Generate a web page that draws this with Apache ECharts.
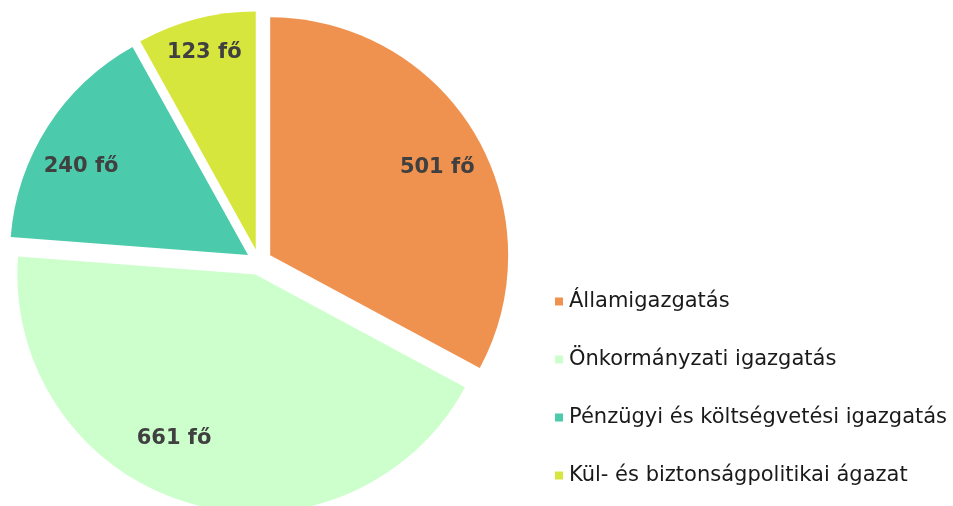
<!DOCTYPE html>
<html>
<head>
<meta charset="utf-8">
<script src="https://cdn.jsdelivr.net/npm/echarts@6/dist/echarts.min.js"></script>
<style>
  html, body { margin: 0; padding: 0; background: #fff; }
  #main { width: 953px; height: 506px; }
</style>
</head>
<body>
<div id="main"></div>
<script>
// adatok
var categories = ['Államigazgatás', 'Önkormányzati igazgatás', 'Pénzügyi és költségvetési igazgatás', 'Kül- és biztonságpolitikai ágazat'];
var values = [501, 661, 240, 123];
var colors = ['#F0924F', '#CCFFCC', '#4BCBAB', '#D7E63D'];
// feliratok eltolása (stílus)
var labelOffsets = [[1, 11], [-27, -22], [-4, 16], [-3, -10]];

var chart = echarts.init(document.getElementById('main'));

var pieData = categories.map(function (name, i) {
  return { name: name, value: values[i], selected: true };
});

chart.setOption({
  animation: false,
  color: colors,
  legend: {
    orient: 'vertical',
    left: 550,
    top: 286,
    icon: 'rect',
    itemWidth: 8,
    itemHeight: 8,
    itemGap: 37,
    selectedMode: false,
    textStyle: { fontFamily: 'DejaVu Sans', fontSize: 21, color: '#1a1a1a', padding: [0, 0, 0, 1] },
    data: categories
  },
  series: [
    {
      type: 'pie',
      center: [259, 262],
      radius: [0, 238],
      startAngle: 90,
      clockwise: true,
      selectedMode: 'multiple',
      selectedOffset: 13,
      label: { show: false },
      labelLine: { show: false },
      emphasis: { disabled: true },
      select: { itemStyle: { borderWidth: 0 } },
      data: pieData
    },
    {
      // csak a feliratokhoz
      type: 'pie',
      silent: true,
      center: [259, 262],
      radius: [143, 238],
      startAngle: 90,
      clockwise: true,
      selectedMode: 'multiple',
      selectedOffset: 13,
      itemStyle: { color: 'rgba(0,0,0,0)' },
      select: { itemStyle: { color: 'rgba(0,0,0,0)', borderWidth: 0 } },
      emphasis: { disabled: true },
      label: {
        show: true,
        position: 'inside',
        formatter: '{c} fő',
        fontFamily: 'DejaVu Sans',
        fontWeight: 'bold',
        fontSize: 21,
        color: '#404040'
      },
      labelLayout: function (params) {
        var o = labelOffsets[params.dataIndex];
        return { dx: o[0], dy: o[1] };
      },
      labelLine: { show: false },
      data: pieData
    }
  ]
});
</script>
</body>
</html>
